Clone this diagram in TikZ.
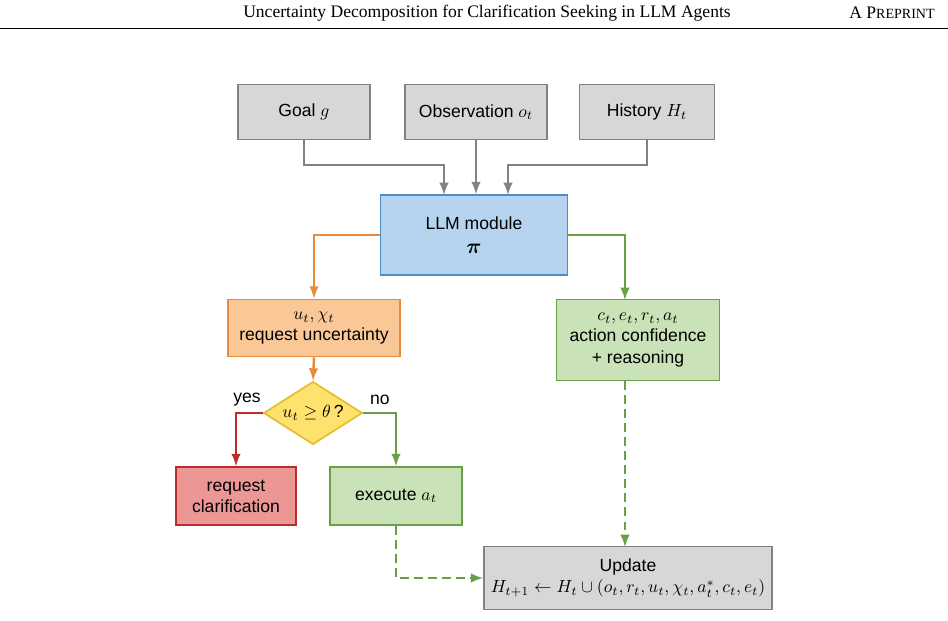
\documentclass[tikz,border=0pt]{standalone}
\usepackage{amsmath,amssymb}
\usepackage{fontspec}
\setmainfont{Liberation Sans}
\newfontfamily\hdrfont{Liberation Serif}
\usetikzlibrary{shapes.geometric, arrows, positioning, calc}
\definecolor{box_gray}{RGB}{215, 215, 215}
\definecolor{line_gray}{RGB}{130, 130, 130}
\definecolor{llm_fill}{RGB}{182, 212, 240}
\definecolor{llm_line}{RGB}{80, 140, 200}
\definecolor{unc_fill}{RGB}{250, 200, 150}
\definecolor{unc_line}{RGB}{232, 140, 60}
\definecolor{act_fill}{RGB}{202, 226, 184}
\definecolor{act_line}{RGB}{104, 160, 72}
\definecolor{dec_fill}{RGB}{255, 226, 110}
\definecolor{dec_line}{RGB}{230, 190, 50}
\definecolor{clar_fill}{RGB}{236, 150, 150}
\definecolor{clar_line}{RGB}{185, 45, 45}
\tikzstyle{block} = [rectangle, draw, line width=1pt, align=center, font=\fontsize{10}{12}\selectfont]
\tikzstyle{arrow} = [line width=1.4pt,->,>=latex]

\begin{document}
\begin{tikzpicture}[x=0.02cm, y=-0.02cm]

\useasboundingbox (0,0) rectangle (948,621);

% Header
\node[font=\hdrfont\fontsize{10}{12}\selectfont] (title) at (487,13) {Uncertainty Decomposition for Clarification Seeking in LLM Agents};
\node[font=\hdrfont\fontsize{10}{12}\selectfont] (preprint) at (892,13) {A P\fontsize{8}{10}\selectfont REPRINT};
\draw[thin] (0,28) -- (948,28);

% Inputs
\node[block, fill=box_gray, draw=line_gray, minimum width=2.64cm, minimum height=1.1cm] (goal) at (304,112) {Goal $g$};
\node[block, fill=box_gray, draw=line_gray, minimum width=2.84cm, minimum height=1.1cm] (obs) at (476,112) {Observation $o_t$};
\node[block, fill=box_gray, draw=line_gray, minimum width=2.7cm, minimum height=1.1cm] (hist) at (647,112) {History $H_t$};

% LLM
\node[block, fill=llm_fill, draw=llm_line, minimum width=3.74cm, minimum height=1.6cm] (llm) at (474,235) {LLM module\\[2pt] \large$\boldsymbol{\pi}$};

% Branches
\node[block, fill=unc_fill, draw=unc_line, minimum width=3.44cm, minimum height=1.14cm] (unc) at (314,328) {$u_t, \chi_t$\\ request uncertainty};
\node[block, fill=act_fill, draw=act_line, minimum width=3.26cm, minimum height=1.62cm] (act) at (638,340) {$c_t, e_t, r_t, a_t$\\ action confidence\\ + reasoning};
\node[diamond, draw=dec_line, line width=1pt, fill=dec_fill, aspect=1.6, inner sep=1.5pt, minimum height=1.26cm, font=\fontsize{10}{12}\selectfont] (dec) at (313,413) {$u_t \geq \theta\,$?};
\node[block, fill=clar_fill, draw=clar_line, minimum width=2.4cm, minimum height=1.16cm] (clar) at (236,496) {request\\ clarification};
\node[block, fill=act_fill, draw=act_line, minimum width=2.64cm, minimum height=1.16cm] (exec) at (396,496) {execute $a_t$};
\node[block, fill=box_gray, draw=line_gray, minimum width=5.76cm, minimum height=1.26cm] (upd) at (628,578) {Update\\ $H_{t+1} \leftarrow H_t \cup (o_t, r_t, u_t, \chi_t, a_t^{*}, c_t, e_t)$};

% Arrow turning points
\coordinate (goal_in) at (444,195);
\coordinate (hist_in) at (508,195);
\coordinate (act_in) at (625,300);
\coordinate (act_out) at (625,381);
\coordinate (upd_in) at (625,547);

% Arrows
\draw[arrow, line_gray] (goal.south) |- (444,165) -- (goal_in);
\draw[arrow, line_gray] (obs.south) -- (obs.south |- llm.north);
\draw[arrow, line_gray] (hist.south) |- (508,165) -- (hist_in);
\draw[arrow, unc_line] (llm.west) -| (unc.north);
\draw[arrow, act_line] (llm.east) -| (act_in);
\draw[arrow, unc_line] (unc.south) -- (dec.north);
\draw[arrow, clar_line] (dec.west) -| (clar.north);
\draw[arrow, act_line] (dec.east) -| (exec.north);
\draw[arrow, act_line, dashed, dash pattern=on 5pt off 3pt] (act_out) -- (upd_in);
\draw[arrow, act_line, dashed, dash pattern=on 5pt off 3pt] (exec.south) |- (upd.west);

\node[font=\fontsize{10}{12}\selectfont] (yes) at (247,400) {yes};
\node[font=\fontsize{10}{12}\selectfont] (no) at (380,400) {no};

\end{tikzpicture}
\end{document}
